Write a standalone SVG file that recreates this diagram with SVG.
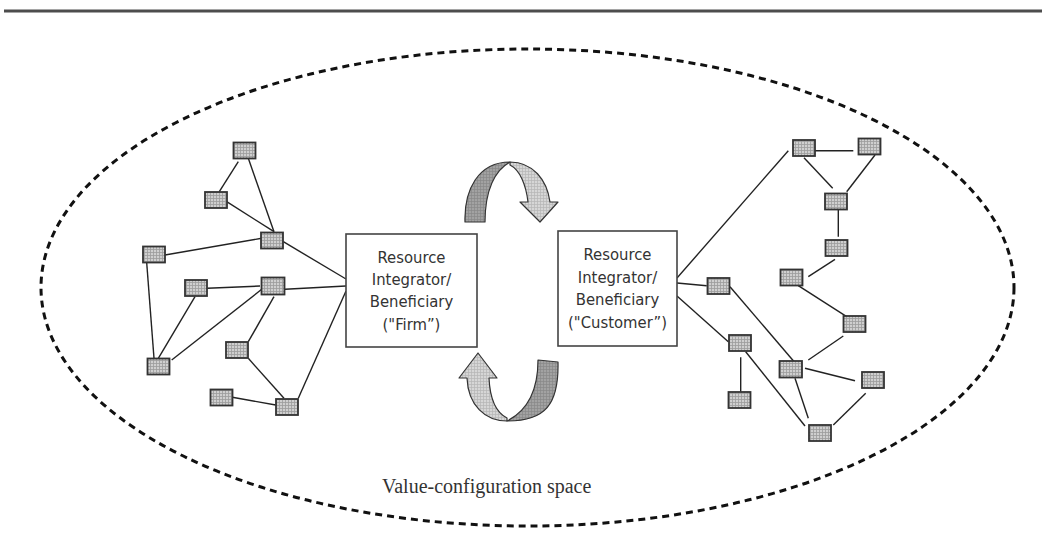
<svg xmlns="http://www.w3.org/2000/svg" width="1042" height="556" viewBox="0 0 1042 556">
<defs>
<pattern id="grid" width="3" height="3" patternUnits="userSpaceOnUse">
<rect width="3" height="3" fill="#cfcfcf"/>
<path d="M0,0.5H3M0.5,0V3" stroke="#9c9c9c" stroke-width="0.8"/>
</pattern>
<pattern id="darkTex" width="3" height="3" patternUnits="userSpaceOnUse">
<rect width="3" height="3" fill="#a2a2a2"/>
<path d="M0,0.5H3M0.5,0V3" stroke="#888" stroke-width="0.7"/>
</pattern>
<pattern id="lightTex" width="3" height="3" patternUnits="userSpaceOnUse">
<rect width="3" height="3" fill="#d6d6d6"/>
<path d="M0,0.5H3M0.5,0V3" stroke="#b4b4b4" stroke-width="0.7"/>
</pattern>
<style>
.n{fill:url(#grid);stroke:#333;stroke-width:1.8}
.e{stroke:#222;stroke-width:1.4;fill:none}
.box{fill:#fff;stroke:#444;stroke-width:1.6}
.lbl{font-family:"DejaVu Sans Condensed","DejaVu Sans",sans-serif;font-stretch:condensed;font-size:16.5px;fill:#333;text-anchor:middle}
.cap{font-family:"Liberation Serif","Times New Roman",serif;font-size:20px;fill:#333}
.ad{fill:url(#darkTex);stroke:#333;stroke-width:1.2;stroke-linejoin:round}
.al{fill:url(#lightTex);stroke:#333;stroke-width:1.2;stroke-linejoin:round}
</style>
</defs>
<rect width="1042" height="556" fill="#fff"/>
<line x1="4" y1="11" x2="1042" y2="11" stroke="#4d4d4d" stroke-width="3"/>
<ellipse id="space" cx="527.5" cy="287.5" rx="486.5" ry="238.5" fill="none" stroke="#111" stroke-width="3" stroke-dasharray="7 5"/>
<text class="cap" x="382" y="493">Value-configuration space</text>

<g id="connectors">
<line class="e" x1="238.3" y1="161.7" x2="219.3" y2="191.7"/>
<line class="e" x1="248.3" y1="158.3" x2="274" y2="231.7"/>
<line class="e" x1="226.7" y1="201.7" x2="274" y2="231.7"/>
<line class="e" x1="261.7" y1="238.3" x2="165" y2="255"/>
<line class="e" x1="283.3" y1="241.7" x2="346" y2="279"/>
<line class="e" x1="146.7" y1="262.7" x2="154" y2="358.3"/>
<line class="e" x1="207.3" y1="288.3" x2="260" y2="286"/>
<line class="e" x1="195" y1="296.7" x2="158.3" y2="358.3"/>
<line class="e" x1="171.7" y1="360" x2="261.7" y2="289.3"/>
<line class="e" x1="274" y1="296.7" x2="248.3" y2="341.7"/>
<line class="e" x1="248.3" y1="358.3" x2="284" y2="398.3"/>
<line class="e" x1="232.3" y1="397.3" x2="275.7" y2="405"/>
<line class="e" x1="298.3" y1="398.3" x2="346" y2="291"/>
<line class="e" x1="285" y1="289.3" x2="346" y2="286"/>

<line class="e" x1="677" y1="278" x2="788.3" y2="150.7"/>
<line class="e" x1="677" y1="283" x2="706.7" y2="285.7"/>
<line class="e" x1="677" y1="296" x2="728.3" y2="341.7"/>
<line class="e" x1="815" y1="150.7" x2="853.3" y2="150.7"/>
<line class="e" x1="804" y1="157.7" x2="832.7" y2="188.3"/>
<line class="e" x1="875" y1="155" x2="846.7" y2="191.7"/>
<line class="e" x1="838.3" y1="210" x2="838.3" y2="236.7"/>
<line class="e" x1="835" y1="259.3" x2="808.3" y2="276.7"/>
<line class="e" x1="798.3" y1="285.7" x2="846.7" y2="316.7"/>
<line class="e" x1="843.3" y1="336" x2="808.3" y2="360"/>
<line class="e" x1="805" y1="368.3" x2="855" y2="380.7"/>
<line class="e" x1="795" y1="378.3" x2="808.3" y2="418.3"/>
<line class="e" x1="865.7" y1="393.3" x2="833.3" y2="425"/>
<line class="e" x1="730" y1="286.7" x2="795" y2="362.7"/>
<line class="e" x1="745.7" y1="351.7" x2="805" y2="426"/>
<line class="e" x1="740.7" y1="357.3" x2="740.7" y2="391.7"/>
</g>

<g id="firm">
<rect class="box" x="346" y="234" width="131" height="113"/>
<text class="lbl" x="411.5" y="263">Resource</text>
<text class="lbl" x="411.5" y="285">Integrator/</text>
<text class="lbl" x="411.5" y="307">Beneficiary</text>
<text class="lbl" x="411.5" y="330">(&quot;Firm”)</text>
</g>
<g id="customer">
<rect class="box" x="558" y="231" width="119" height="115"/>
<text class="lbl" x="617.5" y="260">Resource</text>
<text class="lbl" x="617.5" y="283">Integrator/</text>
<text class="lbl" x="617.5" y="305">Beneficiary</text>
<text class="lbl" x="617.5" y="328">(&quot;Customer”)</text>
</g>

<g id="arrow-top">
<path class="ad" d="M465,222 C464,190 478,162 510,162 C495,170 485,190 485,222 Z"/>
<path class="al" d="M510,162 C533,162 547,180 550,202 L558,202 L540,222 L520,202 L528,202 C526,185 520,170 510,165 Z"/>
</g>
<g id="arrow-bottom">
<path class="ad" d="M538,360 L558,362 C559,405 545,421 507,421 C525,412 538,395 538,360 Z"/>
<path class="al" d="M507,421 C485,421 468,405 467,378 L459,378 L478,353 L497,378 L489,378 C490,400 497,413 507,418 Z"/>
</g>

<g id="node-a"><rect class="n" x="233.5" y="142.5" width="22" height="16"/></g>
<g id="node-b"><rect class="n" x="205" y="192" width="22" height="16"/></g>
<g id="node-c"><rect class="n" x="261" y="232.5" width="22" height="16"/></g>
<g id="node-d"><rect class="n" x="143" y="246.5" width="22" height="16"/></g>
<g id="node-e"><rect class="n" x="185" y="280" width="22" height="16"/></g>
<g id="node-f"><rect class="n" x="261.5" y="277.5" width="23" height="17"/></g>
<g id="node-g"><rect class="n" x="147.5" y="358.5" width="22" height="16"/></g>
<g id="node-h"><rect class="n" x="226" y="342" width="22" height="16"/></g>
<g id="node-i"><rect class="n" x="210.5" y="389.5" width="22" height="16"/></g>
<g id="node-j"><rect class="n" x="276" y="399" width="22" height="16"/></g>

<g id="node-r1"><rect class="n" x="793" y="140" width="22" height="16"/></g>
<g id="node-r2"><rect class="n" x="858.5" y="138.5" width="22" height="16"/></g>
<g id="node-r3"><rect class="n" x="825" y="193.5" width="22" height="16"/></g>
<g id="node-r4"><rect class="n" x="825.5" y="240" width="22" height="16"/></g>
<g id="node-r5"><rect class="n" x="780.5" y="269.5" width="22" height="16"/></g>
<g id="node-r6"><rect class="n" x="707.5" y="278" width="22" height="16"/></g>
<g id="node-r7"><rect class="n" x="843.5" y="316" width="22" height="16"/></g>
<g id="node-r8"><rect class="n" x="729" y="335" width="22" height="16"/></g>
<g id="node-r9"><rect class="n" x="779.5" y="361" width="22.5" height="16.5"/></g>
<g id="node-r10"><rect class="n" x="862" y="372" width="22" height="16"/></g>
<g id="node-r11"><rect class="n" x="728.5" y="392" width="22" height="16"/></g>
<g id="node-r12"><rect class="n" x="809" y="425" width="22" height="16"/></g>
</svg>
